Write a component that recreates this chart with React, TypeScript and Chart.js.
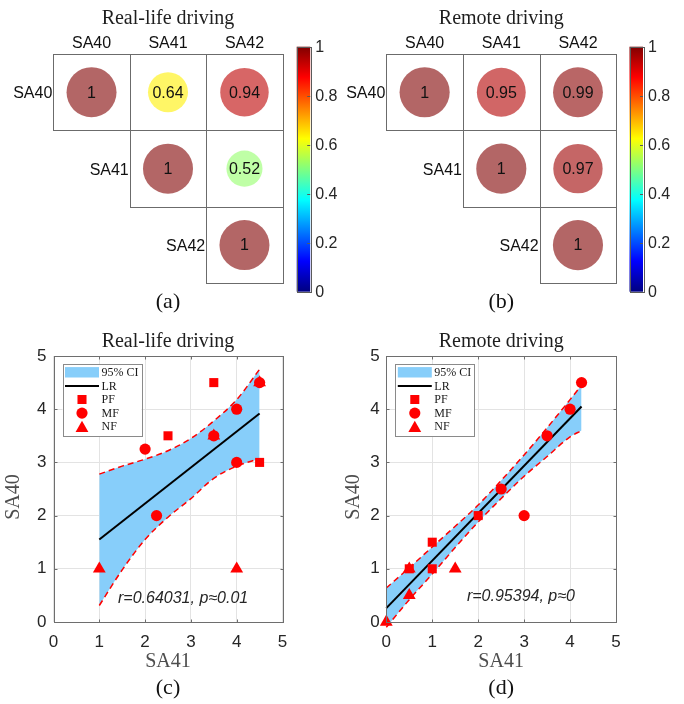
import React, { useEffect, useRef } from 'react';
import { Chart, registerables } from 'chart.js';

Chart.register(...registerables);

// ---------------- data ----------------
const variables = ['SA40', 'SA41', 'SA42'];
// upper triangle, row by row
const realLifeCorr = [1, 0.64, 0.94, 1, 0.52, 1];
const remoteCorr = [1, 0.95, 0.99, 1, 0.97, 1];
const colorbarTicks = [0, 0.2, 0.4, 0.6, 0.8, 1];
const axisTicks = [0, 1, 2, 3, 4, 5];
const legendLabels = ['95% CI', 'LR', 'PF', 'MF', 'NF'];

// (c) real-life driving
const realPF = [{ x: 2.5, y: 3.5 }, { x: 3.5, y: 4.5 }, { x: 4.5, y: 3 }];
const realMF = [{ x: 2, y: 3.25 }, { x: 2.25, y: 2 }, { x: 3.5, y: 3.5 }, { x: 4, y: 4 }, { x: 4, y: 3 }, { x: 4.5, y: 4.5 }];
const realNF = [{ x: 1, y: 1 }, { x: 3.5, y: 3.5 }, { x: 4, y: 1 }, { x: 4.5, y: 4.5 }];
const realLR = [{ x: 1, y: 1.55 }, { x: 4.5, y: 3.92 }];
const realCIx = [1, 1.5, 2, 2.5, 3, 3.5, 4, 4.5];
const realCIUpper = [2.78, 2.93, 3.06, 3.22, 3.45, 3.78, 4.18, 4.75];
const realCILower = [0.31, 0.98, 1.55, 1.97, 2.32, 2.7, 2.93, 3.07];
const realStat = 'r=0.64031, p\u22480.01';
const realStatPos = [2.83, 0.45];

// (d) remote driving
const remotePF = [{ x: 1, y: 1.5 }, { x: 1, y: 1 }, { x: 2, y: 2 }, { x: 0.5, y: 1 }];
const remoteMF = [{ x: 2.5, y: 2.5 }, { x: 3, y: 2 }, { x: 3.5, y: 3.5 }, { x: 4, y: 4 }, { x: 4.25, y: 4.5 }];
const remoteNF = [{ x: 0, y: 0 }, { x: 0.5, y: 0.5 }, { x: 0.5, y: 1 }, { x: 1.5, y: 1 }];
const remoteLR = [{ x: 0, y: 0.26 }, { x: 4.25, y: 4.05 }];
const remoteCIx = [0, 0.5, 1, 1.5, 2, 2.5, 3, 3.5, 4, 4.25];
const remoteCIUpper = [0.64, 1.02, 1.41, 1.8, 2.2, 2.66, 3.14, 3.65, 4.18, 4.45];
const remoteCILower = [-0.1, 0.42, 0.9, 1.4, 1.88, 2.32, 2.74, 3.11, 3.48, 3.6];
const remoteStat = 'r=0.95394, p\u22480';
const remoteStatPos = [2.93, 0.47];

// ---------------- styles ----------------
const SANS = "'Liberation Sans', Arial, sans-serif";
const SERIF = "'Liberation Serif', 'Times New Roman', serif";
const RED = '#ff0000';
const BAND = '#87cefa';
const MARKER_R: Record<string, number> = { rect: 6.4, circle: 5.6, triangle: 7.4 };

function clamp01(v: number) {
  return Math.max(0, Math.min(1, v));
}
function jet(v: number, a = 1) {
  const r = clamp01(1.5 - Math.abs(4 * v - 3));
  const g = clamp01(1.5 - Math.abs(4 * v - 2));
  const b = clamp01(1.5 - Math.abs(4 * v - 1));
  return `rgba(${Math.round(r * 255)},${Math.round(g * 255)},${Math.round(b * 255)},${a})`;
}

function drawMarker(ctx: CanvasRenderingContext2D, style: string, cx: number, cy: number, r: number) {
  ctx.beginPath();
  if (style === 'rect') {
    const s = r * Math.SQRT1_2;
    ctx.rect(cx - s, cy - s, 2 * s, 2 * s);
  } else if (style === 'circle') {
    ctx.arc(cx, cy, r, 0, Math.PI * 2);
  } else {
    for (let i = 0; i < 3; i++) {
      const a = (i * 2 * Math.PI) / 3;
      const px = cx + Math.sin(a) * r;
      const py = cy - Math.cos(a) * r;
      if (i === 0) ctx.moveTo(px, py);
      else ctx.lineTo(px, py);
    }
    ctx.closePath();
  }
  ctx.fill();
}

// ---------------- heatmap panels ----------------
function heatmapConfig(values: number[], title: string, letter: string, left: number, right: number, cbLeft: number) {
  const n = variables.length;
  const pts: { x: number; y: number; v: number }[] = [];
  let k = 0;
  for (let r = 0; r < n; r++) for (let c = r; c < n; c++) pts.push({ x: c + 0.5, y: r + 0.5, v: values[k++] });

  const plugin = {
    id: 'heatDecor',
    beforeDatasetsDraw(chart: any) {
      const { ctx, scales } = chart;
      const xs = scales.x, ys = scales.y;
      ctx.save();
      ctx.strokeStyle = '#6b6b6b';
      ctx.lineWidth = 1;
      for (let r = 0; r < n; r++)
        for (let c = r; c < n; c++) {
          const x0 = Math.round(xs.getPixelForValue(c)) + 0.5;
          const x1 = Math.round(xs.getPixelForValue(c + 1)) + 0.5;
          const y0 = Math.round(ys.getPixelForValue(r)) + 0.5;
          const y1 = Math.round(ys.getPixelForValue(r + 1)) + 0.5;
          ctx.strokeRect(x0, y0, x1 - x0, y1 - y0);
        }
      ctx.restore();
    },
    afterDatasetsDraw(chart: any) {
      const { ctx } = chart;
      const meta = chart.getDatasetMeta(0);
      const data = chart.data.datasets[0].data;
      ctx.save();
      ctx.font = `16px ${SANS}`;
      ctx.fillStyle = '#111';
      ctx.textAlign = 'center';
      ctx.textBaseline = 'middle';
      meta.data.forEach((el: any, i: number) => {
        ctx.fillText(String(data[i].v), el.x, el.y + 1);
      });
      ctx.restore();
    },
    afterDraw(chart: any) {
      const { ctx, scales, chartArea } = chart;
      const xs = scales.x, ys = scales.y;
      ctx.save();
      ctx.font = `16px ${SANS}`;
      ctx.fillStyle = '#111';
      ctx.textBaseline = 'middle';
      ctx.textAlign = 'center';
      variables.forEach((name, c) => {
        ctx.fillText(name, xs.getPixelForValue(c + 0.5), chartArea.top - 10.7);
      });
      ctx.textAlign = 'right';
      variables.forEach((name, r) => {
        ctx.fillText(name, xs.getPixelForValue(r) - 1, ys.getPixelForValue(r + 0.5) + 1.5);
      });
      // colorbar
      const cbTop = chartArea.top - 7.3;
      const cbBottom = chartArea.bottom + 8.4;
      const cbW = 13.5;
      const grad = ctx.createLinearGradient(0, cbBottom, 0, cbTop);
      for (let i = 0; i <= 40; i++) grad.addColorStop(i / 40, jet(i / 40));
      ctx.fillStyle = grad;
      ctx.fillRect(cbLeft, cbTop, cbW, cbBottom - cbTop);
      ctx.strokeStyle = '#5a5a5a';
      ctx.lineWidth = 1;
      ctx.strokeRect(Math.round(cbLeft) + 0.5, Math.round(cbTop) + 0.5, Math.round(cbW), Math.round(cbBottom - cbTop));
      ctx.fillStyle = '#262626';
      ctx.textAlign = 'left';
      ctx.font = `16px ${SANS}`;
      colorbarTicks.forEach((t) => {
        const yy = cbBottom - t * (cbBottom - cbTop);
        ctx.beginPath();
        ctx.moveTo(cbLeft + cbW - 3, Math.round(yy) + 0.5);
        ctx.lineTo(cbLeft + cbW, Math.round(yy) + 0.5);
        ctx.stroke();
        ctx.fillText(String(t), cbLeft + cbW + 5, yy + 1);
      });
      ctx.restore();
    },
  };

  return {
    type: 'scatter' as const,
    data: {
      datasets: [
        {
          data: pts,
          pointRadius: (c: any) => {
            const xs = c.chart.scales.x;
            if (!xs || !c.raw) return 0;
            const cell = xs.getPixelForValue(1) - xs.getPixelForValue(0);
            return cell * 0.327 * Math.sqrt(Math.abs(c.raw.v));
          },
          backgroundColor: (c: any) => (c.raw ? jet(c.raw.v, 0.6) : 'transparent'),
          borderWidth: 0,
          clip: false as any,
        },
      ],
    },
    options: {
      animation: false as const,
      responsive: false,
      devicePixelRatio: 1,
      events: [] as any,
      layout: { padding: { left, right: 342 - right, top: 0, bottom: 0 } },
      plugins: {
        legend: { display: false },
        tooltip: { enabled: false },
        title: {
          display: true,
          text: title,
          fullSize: false,
          color: '#1e1e1e',
          font: { family: SERIF, size: 20, weight: 'normal' as const },
          padding: { top: 6.3, bottom: 23.7 },
        },
        subtitle: {
          display: true,
          text: letter,
          position: 'bottom' as const,
          fullSize: false,
          color: '#111',
          font: { family: SERIF, size: 22 },
          padding: { top: 5.5, bottom: 14.8 },
        },
      },
      scales: {
        x: { type: 'linear' as const, min: 0, max: 3, display: false },
        y: { type: 'linear' as const, min: 0, max: 3, reverse: true, display: false },
      },
    },
    plugins: [plugin],
  };
}

// ---------------- scatter panels ----------------
interface ScatterSpec {
  title: string;
  letter: string;
  left: number;
  right: number;
  pf: { x: number; y: number }[];
  mf: { x: number; y: number }[];
  nf: { x: number; y: number }[];
  lr: { x: number; y: number }[];
  ciX: number[];
  ciUp: number[];
  ciLo: number[];
  stat: string;
  statPos: number[];
  yTitleX: number;
  tickPad: number;
}

function scatterConfig(s: ScatterSpec) {
  const plugin = {
    id: 'scatterDecor',
    afterDatasetsDraw(chart: any) {
      const { ctx, chartArea: ca, scales } = chart;
      const xs = scales.x, ys = scales.y;
      ctx.save();
      // box
      const L = Math.round(ca.left) + 0.5, R = Math.round(ca.right) + 0.5;
      const T = Math.round(ca.top) + 0.5, B = Math.round(ca.bottom) + 0.5;
      ctx.strokeStyle = '#6e6e6e';
      ctx.lineWidth = 1;
      ctx.strokeRect(L, T, R - L, B - T);
      // inward ticks
      ctx.beginPath();
      axisTicks.forEach((v) => {
        const px = Math.round(xs.getPixelForValue(v)) + 0.5;
        ctx.moveTo(px, B); ctx.lineTo(px, B - 3);
        ctx.moveTo(px, T); ctx.lineTo(px, T + 3);
        const py = Math.round(ys.getPixelForValue(v)) + 0.5;
        ctx.moveTo(L, py); ctx.lineTo(L + 3, py);
        ctx.moveTo(R, py); ctx.lineTo(R - 3, py);
      });
      ctx.stroke();

      // statistics text
      ctx.font = `italic 16px ${SANS}`;
      ctx.fillStyle = '#262626';
      ctx.textAlign = 'center';
      ctx.textBaseline = 'middle';
      ctx.fillText(s.stat, xs.getPixelForValue(s.statPos[0]), ys.getPixelForValue(s.statPos[1]));

      // legend
      const lx = ca.left + 9, ly = ca.top + 8, lw = 79, lh = 72;
      ctx.fillStyle = '#ffffff';
      ctx.fillRect(lx, ly, lw, lh);
      ctx.strokeStyle = '#8a8a8a';
      ctx.strokeRect(Math.round(lx) + 0.5, Math.round(ly) + 0.5, lw, lh);
      legendLabels.forEach((lab, i) => {
        const yy = ly + 8.3 + i * 13.6;
        const sx0 = lx + 2.5, sx1 = lx + 36.5, mx = lx + 19.5;
        if (i === 0) {
          ctx.fillStyle = BAND;
          ctx.fillRect(sx0, yy - 5.2, sx1 - sx0, 10.4);
        } else if (i === 1) {
          ctx.strokeStyle = '#000';
          ctx.lineWidth = 2;
          ctx.beginPath();
          ctx.moveTo(sx0, yy);
          ctx.lineTo(sx1, yy);
          ctx.stroke();
        } else {
          ctx.fillStyle = RED;
          const style = i === 2 ? 'rect' : i === 3 ? 'circle' : 'triangle';
          drawMarker(ctx, style, mx, i === 4 ? yy + 1.5 : yy, MARKER_R[style]);
        }
        ctx.fillStyle = '#1a1a1a';
        ctx.font = `12px ${SERIF}`;
        ctx.textAlign = 'left';
        ctx.textBaseline = 'middle';
        ctx.fillText(lab, lx + 39, yy + 0.5);
      });

      // y axis title
      ctx.translate(s.yTitleX, (ca.top + ca.bottom) / 2 + 8);
      ctx.rotate(-Math.PI / 2);
      ctx.font = `20px ${SERIF}`;
      ctx.fillStyle = '#4d4d4d';
      ctx.textAlign = 'center';
      ctx.textBaseline = 'middle';
      ctx.fillText('SA40', 0, 0);
      ctx.restore();
    },
  };

  const tickFont = { family: SANS, size: 17 };
  const grid = { color: '#e3e3e3', drawTicks: false, lineWidth: 1 };
  const marker = (data: any[], style: string) => ({
    data,
    pointStyle: style,
    pointRadius: MARKER_R[style],
    backgroundColor: RED,
    borderWidth: 0,
    showLine: false,
    clip: false as any,
  });

  return {
    type: 'scatter' as const,
    data: {
      datasets: [
        marker(s.nf, 'triangle'),
        marker(s.mf, 'circle'),
        marker(s.pf, 'rect'),
        {
          data: s.lr,
          showLine: true,
          pointRadius: 0,
          borderColor: '#000000',
          borderWidth: 2,
          clip: false as any,
        },
        {
          data: s.ciX.map((x, i) => ({ x, y: s.ciUp[i] })),
          showLine: true,
          pointRadius: 0,
          borderColor: RED,
          borderWidth: 1.5,
          borderDash: [6, 4],
          cubicInterpolationMode: 'monotone' as const,
          tension: 0.4,
          fill: false,
          clip: false as any,
        },
        {
          data: s.ciX.map((x, i) => ({ x, y: s.ciLo[i] })),
          showLine: true,
          pointRadius: 0,
          borderColor: RED,
          borderWidth: 1.5,
          borderDash: [6, 4],
          cubicInterpolationMode: 'monotone' as const,
          tension: 0.4,
          fill: '-1',
          backgroundColor: BAND,
          clip: false as any,
        },
      ],
    },
    options: {
      animation: false as const,
      responsive: false,
      devicePixelRatio: 1,
      events: [] as any,
      layout: { padding: { left: 0, right: 342 - s.right, top: 0, bottom: 0 } },
      plugins: {
        legend: { display: false },
        tooltip: { enabled: false },
        filler: { drawTime: 'beforeDatasetsDraw' as const, propagate: false },
        title: {
          display: true,
          text: s.title,
          fullSize: false,
          color: '#1e1e1e',
          font: { family: SERIF, size: 20, weight: 'normal' as const },
          padding: { top: 0, bottom: 2 },
        },
        subtitle: {
          display: true,
          text: s.letter,
          position: 'bottom' as const,
          fullSize: false,
          color: '#111',
          font: { family: SERIF, size: 22 },
          padding: { top: 0, bottom: 2.8 },
        },
      },
      scales: {
        x: {
          type: 'linear' as const,
          min: 0,
          max: 5,
          afterBuildTicks: (sc: any) => {
            sc.ticks = axisTicks.map((v) => ({ value: v }));
          },
          ticks: { font: tickFont, color: '#262626', padding: 10 },
          grid,
          border: { display: false },
          title: {
            display: true,
            text: 'SA41',
            color: '#4d4d4d',
            font: { family: SERIF, size: 20 },
            padding: { top: 0, bottom: 1.1 },
          },
          afterFit: (sc: any) => {
            sc.height = 52.8;
          },
        },
        y: {
          type: 'linear' as const,
          min: 0,
          max: 5,
          afterBuildTicks: (sc: any) => {
            sc.ticks = axisTicks.map((v) => ({ value: v }));
          },
          ticks: { font: tickFont, color: '#262626', padding: s.tickPad },
          grid,
          border: { display: false },
          afterFit: (sc: any) => {
            sc.width = s.left;
          },
        },
      },
    },
    plugins: [plugin],
  };
}

export default function App() {
  const refA = useRef<HTMLCanvasElement>(null);
  const refB = useRef<HTMLCanvasElement>(null);
  const refC = useRef<HTMLCanvasElement>(null);
  const refD = useRef<HTMLCanvasElement>(null);

  useEffect(() => {
    const charts: Chart[] = [];
    charts.push(new Chart(refA.current!, heatmapConfig(realLifeCorr, 'Real-life driving', '(a)', 53.3, 282.7, 296.7) as any));
    charts.push(new Chart(refB.current!, heatmapConfig(remoteCorr, 'Remote driving', '(b)', 44.3, 274.3, 287.5) as any));
    charts.push(
      new Chart(
        refC.current!,
        scatterConfig({
          title: 'Real-life driving',
          letter: '(c)',
          left: 53.5,
          right: 282.5,
          pf: realPF,
          mf: realMF,
          nf: realNF,
          lr: realLR,
          ciX: realCIx,
          ciUp: realCIUpper,
          ciLo: realCILower,
          stat: realStat,
          statPos: realStatPos,
          yTitleX: 13.5,
          tickPad: 7,
        }) as any
      )
    );
    charts.push(
      new Chart(
        refD.current!,
        scatterConfig({
          title: 'Remote driving',
          letter: '(d)',
          left: 44.3,
          right: 274,
          pf: remotePF,
          mf: remoteMF,
          nf: remoteNF,
          lr: remoteLR,
          ciX: remoteCIx,
          ciUp: remoteCIUpper,
          ciLo: remoteCILower,
          stat: remoteStat,
          statPos: remoteStatPos,
          yTitleX: 12,
          tickPad: 6.5,
        }) as any
      )
    );
    return () => charts.forEach((c) => c.destroy());
  }, []);

  const cv = (left: number, top: number): React.CSSProperties => ({ position: 'absolute', left, top, display: 'block' });

  return (
    <div style={{ position: 'absolute', left: 0, top: 0, width: 684, height: 704, background: '#ffffff', overflow: 'hidden' }}>
      <canvas ref={refA} width={342} height={330} style={cv(0, 0)} />
      <canvas ref={refB} width={342} height={330} style={cv(342, 0)} />
      <canvas ref={refC} width={342} height={374} style={cv(0, 330)} />
      <canvas ref={refD} width={342} height={374} style={cv(342, 330)} />
    </div>
  );
}
